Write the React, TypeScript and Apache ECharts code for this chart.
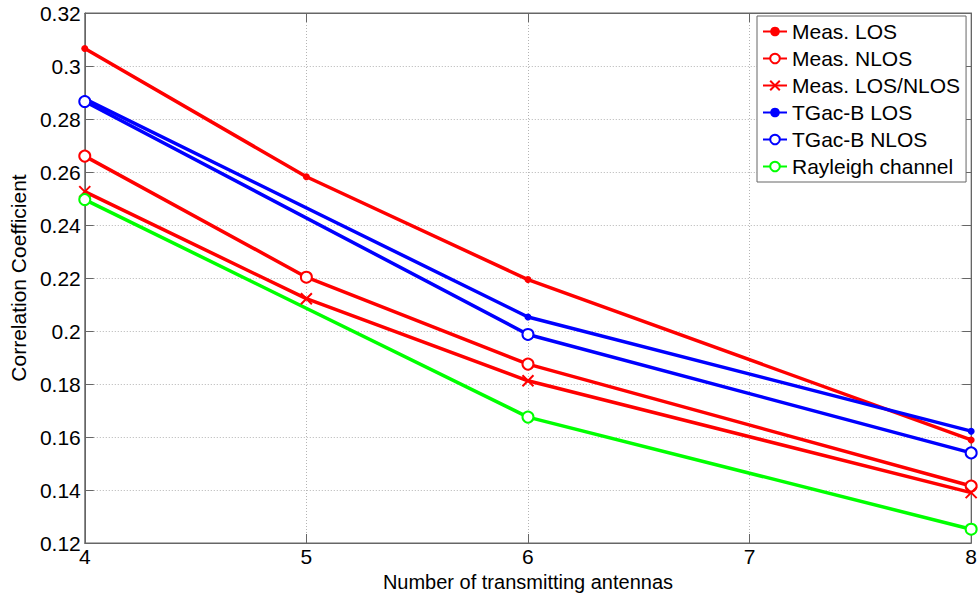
import React, { useEffect, useRef } from "react";
import * as echarts from "echarts";

const measX = [4, 5, 6, 8];
const modelX = [4, 6, 8];
const measLOS = [0.3066, 0.2582, 0.2194, 0.1589];
const measNLOS = [0.266, 0.2203, 0.1875, 0.1415];
const measMix = [0.2526, 0.2122, 0.1812, 0.139];
const tgacLOS = [0.2876, 0.2053, 0.1622];
const tgacNLOS = [0.2866, 0.1987, 0.154];
const rayleigh = [0.2496, 0.1675, 0.1252];
const seriesNames = [
  "Meas. LOS",
  "Meas. NLOS",
  "Meas. LOS/NLOS",
  "TGac-B LOS",
  "TGac-B NLOS",
  "Rayleigh channel",
];

const FONT = "'Liberation Sans', Arial, Helvetica, sans-serif";
const pairs = (xs: number[], ys: number[]) => xs.map((x, i) => [x, ys[i]]);
const fmt = (v: number) => String(parseFloat(v.toFixed(2)));

export default function App() {
  const ref = useRef<HTMLDivElement>(null);
  useEffect(() => {
    if (!ref.current) return;
    const chart = echarts.init(ref.current, undefined, { renderer: "svg" });
    const mk = (
      name: string,
      data: number[][],
      color: string,
      symbol: string,
      size: number,
      extraItem: any = {}
    ) => ({
      name,
      type: "line",
      data,
      clip: false,
      symbol,
      symbolSize: size,
      showAllSymbol: true,
      lineStyle: { color, width: 3.5 },
      itemStyle: { color, borderColor: color, borderWidth: 2, ...extraItem },
      emphasis: { disabled: true },
      z: 3,
    });
    const cross = "path://M0,0L10,10M10,0L0,10";
    chart.setOption({
      animation: false,
      backgroundColor: "#ffffff",
      textStyle: { fontFamily: FONT },
      grid: {
        left: 79,
        right: 6,
        top: 13,
        bottom: 51,
        show: true,
        borderColor: "#666",
        borderWidth: 1,
        backgroundColor: "transparent",
      },
      legend: {
        left: 757,
        top: 16,
        orient: "vertical",
        padding: [5, 6, 5, 5],
        itemGap: 6,
        itemWidth: 24,
        itemHeight: 12,
        backgroundColor: "#ffffff",
        borderColor: "#666",
        borderWidth: 1,
        borderRadius: 0,
        data: seriesNames,
        textStyle: { fontSize: 21, fontFamily: FONT, color: "#000", lineHeight: 21 },
        selectedMode: false,
      },
      xAxis: [
        {
          type: "value",
          min: 4,
          max: 8,
          interval: 1,
          name: "Number of transmitting antennas",
          nameLocation: "middle",
          nameGap: 29,
          nameTextStyle: { fontSize: 20, color: "#000", fontFamily: FONT },
          axisLine: { show: true, lineStyle: { color: "#666", width: 1 } },
          axisTick: { show: true, inside: true, length: 9, lineStyle: { color: "#666" } },
          axisLabel: { fontSize: 21, color: "#000", margin: 3, fontFamily: FONT },
          splitLine: { show: true, lineStyle: { color: "#b4b4b4", type: [1, 2], width: 1 } },
        },
        {
          type: "value",
          position: "top",
          min: 4,
          max: 8,
          interval: 1,
          axisLine: { show: true, lineStyle: { color: "#666", width: 1 } },
          axisTick: { show: true, inside: true, length: 9, lineStyle: { color: "#666" } },
          axisLabel: { show: false },
          splitLine: { show: false },
        },
      ],
      yAxis: [
        {
          type: "value",
          min: 0.12,
          max: 0.32,
          interval: 0.02,
          name: "Correlation Coefficient",
          nameLocation: "middle",
          nameGap: 48,
          nameTextStyle: { fontSize: 21, color: "#000", fontFamily: FONT },
          axisLine: { show: true, lineStyle: { color: "#666", width: 1 } },
          axisTick: { show: true, inside: true, length: 9, lineStyle: { color: "#666" } },
          axisLabel: { fontSize: 21, color: "#000", margin: 4, formatter: fmt, fontFamily: FONT },
          splitLine: { show: true, lineStyle: { color: "#b4b4b4", type: [1, 2], width: 1 } },
        },
        {
          type: "value",
          position: "right",
          min: 0.12,
          max: 0.32,
          interval: 0.02,
          axisLine: { show: true, lineStyle: { color: "#666", width: 1 } },
          axisTick: { show: true, inside: true, length: 9, lineStyle: { color: "#666" } },
          axisLabel: { show: false },
          splitLine: { show: false },
        },
      ],
      series: [
        mk(seriesNames[0], pairs(measX, measLOS), "#ff0000", "circle", 7, { borderWidth: 0 }),
        mk(seriesNames[1], pairs(measX, measNLOS), "#ff0000", "emptyCircle", 11),
        mk(seriesNames[2], pairs(measX, measMix), "#ff0000", cross, 11),
        mk(seriesNames[3], pairs(modelX, tgacLOS), "#0000ff", "circle", 7, { borderWidth: 0 }),
        mk(seriesNames[4], pairs(modelX, tgacNLOS), "#0000ff", "emptyCircle", 11),
        mk(seriesNames[5], pairs(modelX, rayleigh), "#00ff00", "emptyCircle", 11),
      ],
    });
    return () => chart.dispose();
  }, []);
  return (
    <div
      ref={ref}
      style={{ position: "absolute", left: 0, top: 0, width: 980, height: 597, background: "#fff" }}
    />
  );
}
